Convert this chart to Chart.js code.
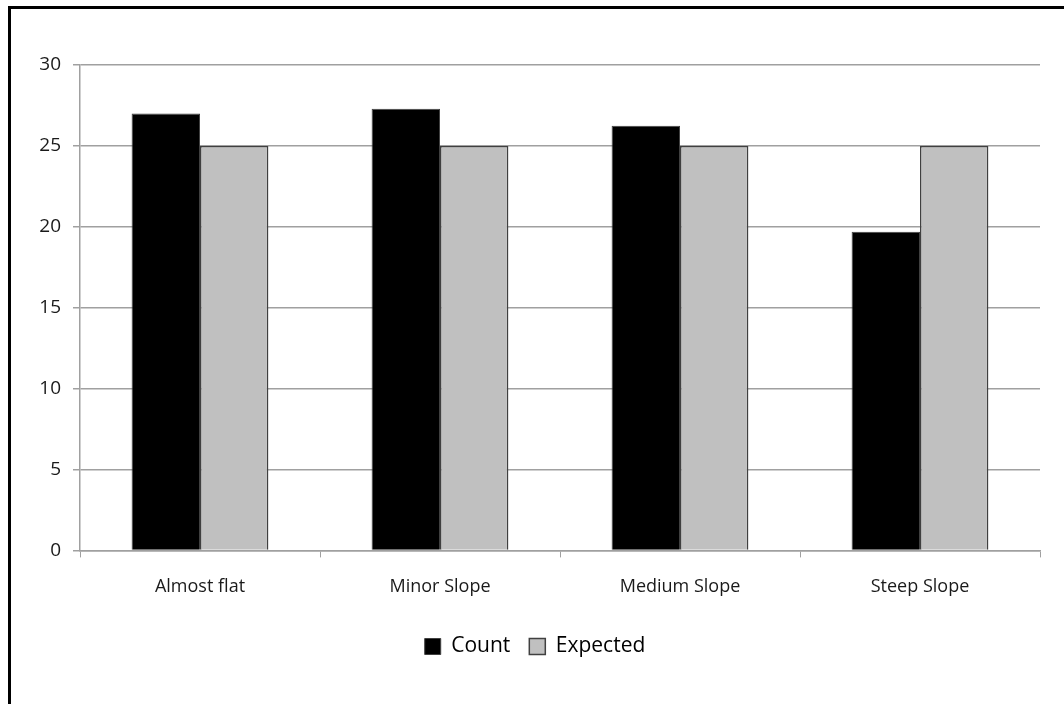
<!DOCTYPE html>
<html>
<head>
<meta charset="utf-8">
<title>Slope counts</title>
<script src="https://cdn.jsdelivr.net/npm/chart.js@4/dist/chart.umd.min.js"></script>
<style>
  html, body { margin: 0; padding: 0; background: #fff; }
  .chart-wrap { position: relative; width: 1064px; height: 704px; }
  .frame {
    position: absolute; left: 8px; top: 6px; right: 0; bottom: 0;
    border-left: 3px solid #000; border-top: 3px solid #000;
    pointer-events: none;
  }
</style>
</head>
<body>
<div class="chart-wrap">
  <canvas id="slopeChart" width="1064" height="704"></canvas>
  <div class="frame"></div>
</div>
<script>
// data
const slopeCategories = ['Almost flat', 'Minor Slope', 'Medium Slope', 'Steep Slope'];
const countValues = [27, 27.3, 26.25, 19.7];
const expectedValues = [25, 25, 25, 25];
const yTicks = [0, 5, 10, 15, 20, 25, 30];

const gridGrey = '#a0a0a0';
const labelFont = { family: '"Open Sans", sans-serif', size: 18 };

const canvas = document.getElementById('slopeChart');
const ctx = canvas.getContext('2d');

canvas.chart = new Chart(ctx, {
  type: 'bar',
  data: {
    labels: slopeCategories,
    datasets: [
      {
        label: 'Count',
        data: countValues,
        backgroundColor: '#000000',
        borderColor: '#404040',
        borderWidth: 1,
        categoryPercentage: 0.57,
        barPercentage: 1,
      },
      {
        label: 'Expected',
        data: expectedValues,
        backgroundColor: '#c0c0c0',
        borderColor: '#404040',
        borderWidth: 1.5,
        categoryPercentage: 0.57,
        barPercentage: 1,
      },
    ],
  },
  options: {
    responsive: false,
    animation: false,
    layout: {
      // left padding + y axis width (50) puts the plot edge at x=80
      padding: { top: 65, right: 24, left: 30, bottom: 37 },
    },
    plugins: {
      tooltip: { enabled: false },
      title: { display: false },
      legend: {
        position: 'bottom',
        labels: {
          font: { family: '"Open Sans", sans-serif', size: 21 },
          color: '#000',
          boxWidth: 16,
          boxHeight: 16,
          padding: 19,
        },
      },
    },
    scales: {
      x: {
        grid: {
          offset: true,
          drawOnChartArea: false,
          drawTicks: true,
          tickLength: 7,
          color: gridGrey,
        },
        border: { color: gridGrey, width: 1.5 },
        ticks: {
          font: labelFont,
          color: '#1a1a1a',
          padding: 19,
          maxRotation: 0,
        },
      },
      y: {
        min: 0,
        max: 30,
        afterBuildTicks: (scale) => {
          scale.ticks = yTicks.map(v => ({ value: v }));
        },
        afterFit: (scale) => {
          scale.width = 50;
        },
        grid: {
          color: gridGrey,
          lineWidth: 1.5,
          tickLength: 7,
        },
        border: { color: gridGrey, width: 1.5 },
        ticks: {
          font: { family: '"Open Sans", sans-serif', size: 19 },
          color: '#1a1a1a',
          padding: 12,
        },
      },
    },
  },
});
</script>
</body>
</html>
